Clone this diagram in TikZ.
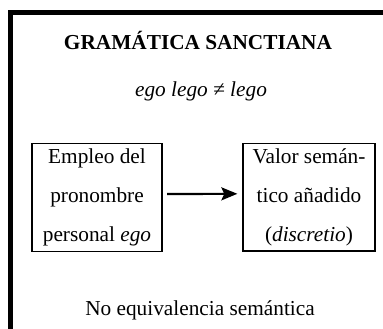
\documentclass[tikz,border=0pt]{standalone}
\usepackage{fontspec}
\setmainfont{Liberation Serif}
\usetikzlibrary{positioning}
\usetikzlibrary{arrows.meta}

\begin{document}
\begin{tikzpicture}[x=1pt, y=-1pt,
		texto/.style={anchor=base, inner sep=0pt, font=\fontsize{21.3}{25}\selectfont},
		caja/.style={draw, line width={1.3pt}, align=center, inner sep=0pt, font=\fontsize{21.3}{39}\selectfont},
		flecha/.style={-{Stealth[length=16pt, width=13pt, inset=3pt]}, line width={2.2pt}}]
			\useasboundingbox (0,0) rectangle (383,329);
			\draw[line width={5pt}] (10.5,329) -- (10.5,12.5) -- (383,12.5);
			\node[texto, font=\fontsize{21.3}{25}\selectfont\bfseries] (titulo) at (198,50) {GRAMÁTICA SANCTIANA};
			\node[texto, font=\fontsize{21.3}{25}\selectfont\itshape] (lema) at (201,96) {ego lego ≠ lego};
			\node[caja, minimum width={130pt}, minimum height={108pt}] (empleo) at (97,197.5) {Empleo del\\pronombre\\personal \textit{ego}};
			\node[caja, minimum width={132pt}, minimum height={107.5pt}] (valor) at (309,197.3) {Valor semán-\\tico añadido\\(\textit{discretio})};
			\node[texto] (conclusion) at (200,315) {No equivalencia semántica};
			\draw[flecha, shorten <={4.5pt}, shorten >={5pt}] ([yshift=3.5pt]empleo.east) -- ([yshift=3.5pt]valor.west);
		\end{tikzpicture}
\end{document}
